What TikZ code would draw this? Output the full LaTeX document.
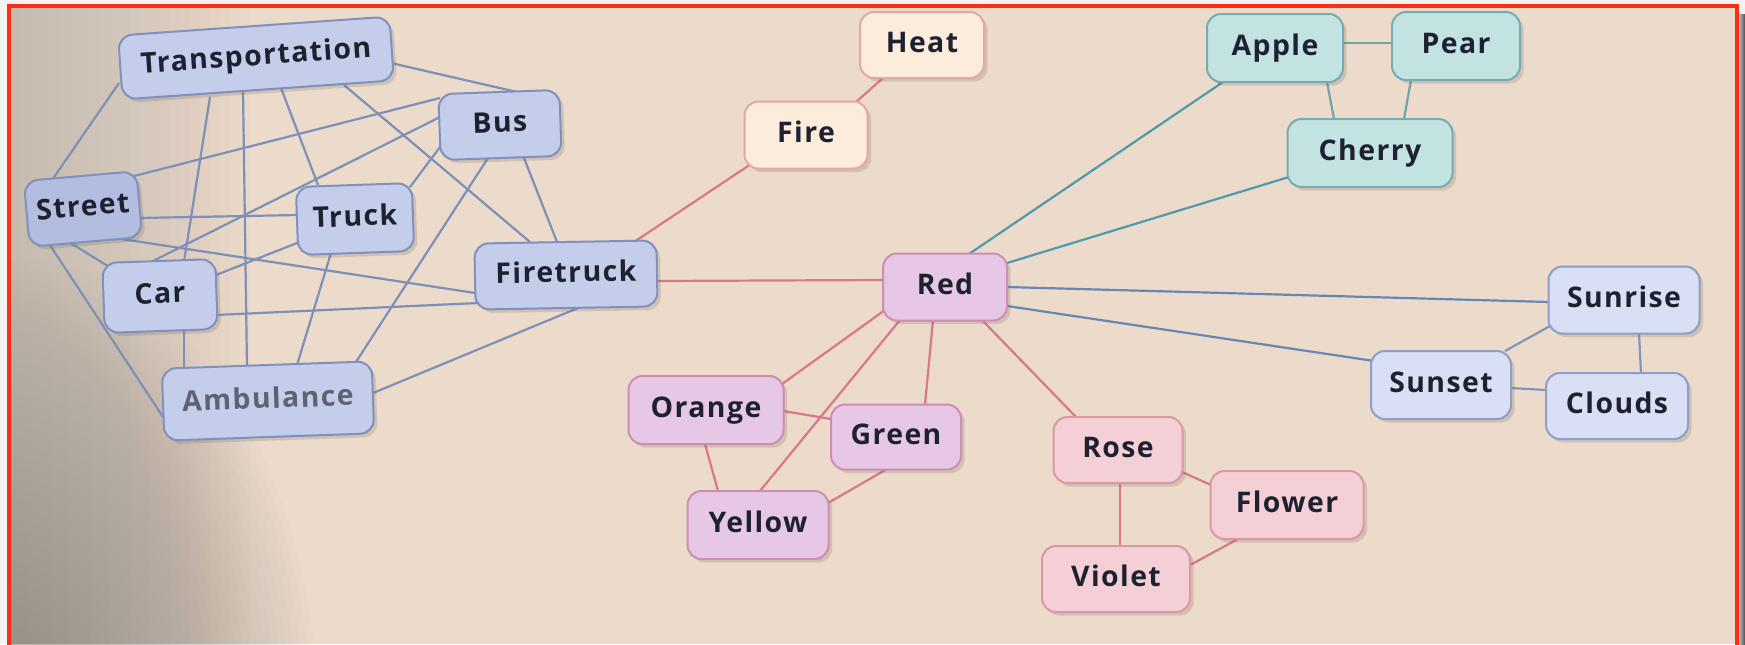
\documentclass[tikz,border=0pt]{standalone}
\usepackage{fontspec}
\newfontfamily\lab{Open Sans}[LetterSpace=5]
\usetikzlibrary{calc,shadows,backgrounds}
\definecolor{outside}{HTML}{F3F3F3}
\definecolor{frame}{HTML}{FF2D12}
\definecolor{paper}{HTML}{ECDACA}
\definecolor{gutter}{HTML}{938D85}
\definecolor{txt}{HTML}{1E2130}
\definecolor{ambtxt}{HTML}{5E6272}
\definecolor{shd}{HTML}{6B5A4A}
\definecolor{tfill}{HTML}{C4CDEA}
\definecolor{tdark}{HTML}{B2BDDF}
\definecolor{tdraw}{HTML}{7F91BC}
\definecolor{tline}{HTML}{7D90B8}
\definecolor{hfill}{HTML}{FCECDB}
\definecolor{hdraw}{HTML}{E4A8A2}
\definecolor{rfill}{HTML}{E6C8E6}
\definecolor{rdraw}{HTML}{CF8DB3}
\definecolor{pfill}{HTML}{F4D0D6}
\definecolor{pdraw}{HTML}{DA99A2}
\definecolor{rline}{HTML}{D9788A}
\definecolor{ffill}{HTML}{C3E3E3}
\definecolor{fdraw}{HTML}{74ACB3}
\definecolor{fline}{HTML}{4F9AAD}
\definecolor{fline2}{HTML}{6FA5AE}
\definecolor{sfill}{HTML}{D9DFF4}
\definecolor{sdraw}{HTML}{8E9EC6}
\definecolor{sline}{HTML}{6688B4}
\definecolor{sline2}{HTML}{8195BE}
\begin{document}
\begin{tikzpicture}[x=0.5pt,y=-0.5pt,
  box/.style={rounded corners=7pt, draw, line width=1pt, inner sep=0pt,
    text height=0.72em, text depth=0pt, text=txt,
    font=\lab\bfseries\fontsize{14.2}{16}\selectfont,
    drop shadow={shadow xshift=1.8pt, shadow yshift=-1.8pt, opacity=0.2, fill=shd}},
  sz/.style 2 args={minimum width={#1*0.5pt}, minimum height={#2*0.5pt}},
  tbox/.style={box, fill=tfill, draw=tdraw},
  hbox/.style={box, fill=hfill, draw=hdraw},
  rbox/.style={box, fill=rfill, draw=rdraw},
  pbox/.style={box, fill=pfill, draw=pdraw},
  fbox/.style={box, fill=ffill, draw=fdraw},
  sbox/.style={box, fill=sfill, draw=sdraw},
  link/.style={line width=1.1pt},
  tl/.style={link, draw=tline},
  rl/.style={link, draw=rline},
  fl/.style={link, draw=fline},
  fl2/.style={link, draw=fline2},
  sl/.style={link, draw=sline},
  sl2/.style={link, draw=sline2}
]
\useasboundingbox (0,0) rectangle (1745,644);
% nodes
\node[tbox,sz={272}{64},rotate=4] (T) at (256,58) {Transportation};
\node[tbox,sz={121}{66},rotate=2] (Bus) at (500,125) {Bus};
\node[tbox,sz={113}{66},rotate=5,fill=tdark] (Street) at (83,209) {Street};
\node[tbox,sz={116}{68},rotate=2] (Truck) at (355,219) {Truck};
\node[tbox,sz={113}{70},rotate=2] (Car) at (160,296) {Car};
\node[tbox,sz={182}{66},rotate=1] (Firetruck) at (566,275) {Firetruck};
\node[tbox,sz={210}{72},rotate=2,text=ambtxt] (Amb) at (268,401) {Ambulance};
\node[hbox,sz={124}{66}] (Heat) at (922,45) {Heat};
\node[hbox,sz={123}{67}] (Fire) at (806,135) {Fire};
\node[rbox,sz={124}{67}] (Red) at (945,287) {Red};
\node[rbox,sz={155}{68}] (Orange) at (706,410) {Orange};
\node[rbox,sz={130}{65}] (Green) at (896,437) {Green};
\node[rbox,sz={141}{68}] (Yellow) at (758,525) {Yellow};
\node[pbox,sz={129}{66}] (Rose) at (1118,450) {Rose};
\node[pbox,sz={153}{68}] (Flower) at (1287,505) {Flower};
\node[pbox,sz={148}{66}] (Violet) at (1116,579) {Violet};
\node[fbox,sz={136}{68}] (Apple) at (1275,48) {Apple};
\node[fbox,sz={128}{68}] (Pear) at (1456,46) {Pear};
\node[fbox,sz={165}{68}] (Cherry) at (1370,153) {Cherry};
\node[sbox,sz={151}{67}] (Sunrise) at (1624,300) {Sunrise};
\node[sbox,sz={140}{68}] (Sunset) at (1441,385) {Sunset};
\node[sbox,sz={142}{66}] (Clouds) at (1617,406) {Clouds};
\begin{scope}[on background layer]
  % page and frame
  \fill[outside] (0,0) rectangle (1745,644);
  \shade[left color=outside, right color=black!70] (1736,14) rectangle (1745,644);
  \fill[paper] (10,7) rectangle (1736,644);
  \begin{scope}
    \clip (10,7) rectangle (1736,644);
    \foreach \i in {1,...,24} {
      \fill[gutter, opacity=0.016] (10,7) rectangle ({10+10*\i},644);
    }
    \foreach \i in {1,...,44} {
      \fill[gutter, opacity=0.026] (10,720) ellipse [x radius={7*\i}, y radius={10.5*\i}];
    }
  \end{scope}
  \draw[frame, line width=2pt] (9,650) -- (9,6) -- (1737,6) -- (1737,650);
  % transportation cluster
  \draw[tl] ($(T)+(-137,25)$) -- ($(Street)+(-31,-29)$);
  \draw[tl] ($(T)+(-46,39)$) -- ($(Car)+(24,-34)$);
  \draw[tl] ($(T)+(-13,32)$) -- ($(Amb)+(-21,-33)$);
  \draw[tl] ($(T)+(25,30)$) -- ($(Truck)+(-37,-34)$);
  \draw[tl] ($(T)+(88,27)$) -- ($(Firetruck)+(-36,-33)$);
  \draw[tl] ($(T)+(135,5)$) -- ($(Bus)+(17,-33)$);
  \draw[tl] ($(Street)+(51,-33)$) -- ($(Bus)+(-60,-27)$);
  \draw[tl] ($(Car)+(-7,-35)$) -- ($(Bus)+(-60,-8)$);
  \draw[tl] ($(Truck)+(55,-32)$) -- ($(Bus)+(-60,22)$);
  \draw[tl] ($(Amb)+(86,-36)$) -- ($(Bus)+(-12,33)$);
  \draw[tl] ($(Bus)+(24,33)$) -- ($(Firetruck)+(-9,-33)$);
  \draw[tl] ($(Street)+(56,9)$) -- ($(Truck)+(-58,-4)$);
  \draw[tl] ($(Street)+(32,29)$) -- ($(Firetruck)+(-91,18)$);
  \draw[tl] ($(Street)+(-14,33)$) -- ($(Car)+(-49,-28)$);
  \draw[tl] ($(Street)+(-37,30)$) -- ($(Amb)+(-105,16)$);
  \draw[tl] ($(Car)+(56,-21)$) -- ($(Truck)+(-58,24)$);
  \draw[tl] ($(Car)+(56,19)$) -- ($(Firetruck)+(-88,28)$);
  \draw[tl] ($(Car)+(24,34)$) -- ($(Amb)+(-84,-34)$);
  \draw[tl] ($(Truck)+(-24,34)$) -- ($(Amb)+(29,-36)$);
  \draw[tl] ($(Amb)+(105,-8)$) -- ($(Firetruck)+(12,33)$);
  % red links
  \draw[rl] ($(Firetruck)+(68,-33)$) -- ($(Fire)+(-55,29)$);
  \draw[rl] ($(Fire)+(50,-33)$) -- ($(Heat)+(-39,33)$);
  \draw[rl] ($(Firetruck)+(91,6)$) -- ($(Red)+(-62,-7)$);
  \draw[rl] ($(Red)+(-60,23)$) -- ($(Orange)+(76,-26)$);
  \draw[rl] ($(Red)+(-45,33)$) -- ($(Yellow)+(2,-34)$);
  \draw[rl] ($(Red)+(-12,33)$) -- ($(Green)+(29,-32)$);
  \draw[rl] ($(Red)+(37,33)$) -- ($(Rose)+(-42,-33)$);
  \draw[rl] ($(Orange)+(77,1)$) -- ($(Green)+(-65,-18)$);
  \draw[rl] ($(Orange)+(-1,34)$) -- ($(Yellow)+(-40,-34)$);
  \draw[rl] ($(Green)+(-9,32)$) -- ($(Yellow)+(70,-22)$);
  \draw[rl] ($(Rose)+(2,33)$) -- ($(Violet)+(4,-33)$);
  \draw[rl] ($(Rose)+(64,22)$) -- ($(Flower)+(-76,-20)$);
  \draw[rl] ($(Violet)+(74,-14)$) -- ($(Flower)+(-49,34)$);
  % fruit links
  \draw[fl] ($(Red)+(24,-33)$) -- ($(Apple)+(-52,34)$);
  \draw[fl] ($(Red)+(62,-24)$) -- ($(Cherry)+(-81,24)$);
  \draw[fl2] ($(Apple)+(68,-5)$) -- ($(Pear)+(-64,-3)$);
  \draw[fl2] ($(Apple)+(52,34)$) -- ($(Cherry)+(-36,-34)$);
  \draw[fl2] ($(Pear)+(-45,34)$) -- ($(Cherry)+(34,-34)$);
  % sun links
  \draw[sl] ($(Red)+(62,0)$) -- ($(Sunrise)+(-75,2)$);
  \draw[sl] ($(Red)+(62,19)$) -- ($(Sunset)+(-67,-24)$);
  \draw[sl2] ($(Sunrise)+(-74,26)$) -- ($(Sunset)+(64,-34)$);
  \draw[sl2] ($(Sunrise)+(15,33)$) -- ($(Clouds)+(24,-33)$);
  \draw[sl2] ($(Sunset)+(70,3)$) -- ($(Clouds)+(-71,-16)$);
\end{scope}
\end{tikzpicture}
\end{document}
